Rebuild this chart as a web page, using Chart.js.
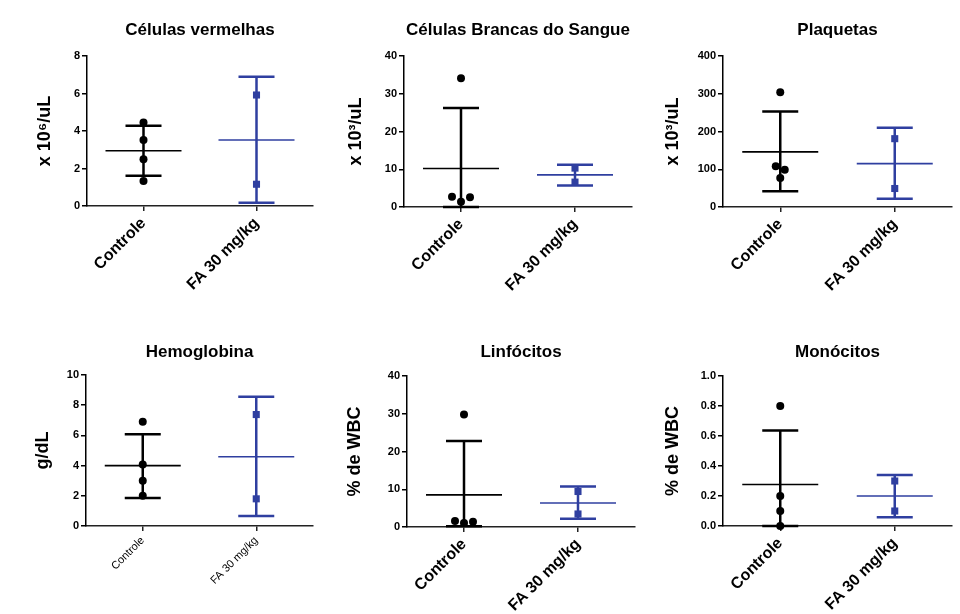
<!DOCTYPE html>
<html>
<head>
<meta charset="utf-8">
<script src="https://cdn.jsdelivr.net/npm/chart.js@4.4.1/dist/chart.umd.min.js"></script>
<style>
  body { margin: 0; background: #fff; }
  .panel { position: absolute; width: 320px; height: 307px; }
</style>
</head>
<body>
<div class="panel" style="left:0;top:0"><canvas id="c1" width="320" height="307"></canvas></div>
<div class="panel" style="left:320px;top:0"><canvas id="c2" width="320" height="307"></canvas></div>
<div class="panel" style="left:640px;top:0"><canvas id="c3" width="320" height="307"></canvas></div>
<div class="panel" style="left:0;top:307px"><canvas id="c4" width="320" height="307"></canvas></div>
<div class="panel" style="left:320px;top:307px"><canvas id="c5" width="320" height="307"></canvas></div>
<div class="panel" style="left:640px;top:307px"><canvas id="c6" width="320" height="307"></canvas></div>
<script>
// groups
const groups = ["Controle", "FA 30 mg/kg"];

// Células vermelhas (x 10^6/uL)
const rbcControle = [4.45, 3.52, 2.49, 1.34];
const rbcFA = [5.92, 1.16];
const rbcMean = [2.95, 3.52];
const rbcUpper = [4.28, 6.9];
const rbcLower = [1.62, 0.18];
const rbcTicks = [0, 2, 4, 6, 8];

// Células Brancas do Sangue (x 10^3/uL)
const wbcControle = [34.1, 2.7, 1.4, 2.55];
const wbcFA = [10.3, 6.6];
const wbcMean = [10.2, 8.5];
const wbcUpper = [26.2, 11.2];
const wbcLower = [0, 5.7];
const wbcTicks = [0, 10, 20, 30, 40];

// Plaquetas (x 10^3/uL)
const pltControle = [304, 108, 99, 77];
const pltFA = [181, 49];
const pltMean = [146, 115];
const pltUpper = [253, 210];
const pltLower = [42, 22];
const pltTicks = [0, 100, 200, 300, 400];

// Hemoglobina (g/dL)
const hgbControle = [6.9, 4.08, 2.99, 2.0];
const hgbFA = [7.38, 1.8];
const hgbMean = [4.0, 4.59];
const hgbUpper = [6.08, 8.56];
const hgbLower = [1.86, 0.66];
const hgbTicks = [0, 2, 4, 6, 8, 10];

// Linfócitos (% de WBC)
const linControle = [29.8, 1.6, 1.06, 1.4];
const linFA = [9.4, 3.45];
const linMean = [8.5, 6.37];
const linUpper = [22.75, 10.7];
const linLower = [0.2, 2.2];
const linTicks = [0, 10, 20, 30, 40];

// Monócitos (% de WBC)
const monControle = [0.8, 0.2, 0.1, 0.0];
const monFA = [0.3, 0.1];
const monMean = [0.277, 0.2];
const monUpper = [0.637, 0.34];
const monLower = [0, 0.058];
const monTicks = [0, 0.2, 0.4, 0.6, 0.8, 1.0];

const FONT = "'Liberation Sans', Arial, sans-serif";
const BLACK = "#000000";
const BLUE = "#2f3fa0";
const groupColors = [BLACK, BLUE];

// title centred over the plot area
const panelTitle = {
  id: "panelTitle",
  afterDraw(chart, args, opts) {
    const { ctx, chartArea } = chart;
    ctx.save();
    ctx.font = "bold 17px " + FONT;
    ctx.fillStyle = "#000";
    ctx.textAlign = "center";
    ctx.textBaseline = "middle";
    ctx.fillText(opts.text, (chartArea.left + chartArea.right) / 2, opts.y);
    ctx.restore();
  }
};

// mean line and SD whiskers for each group
const errorBars = {
  id: "errorBars",
  beforeDatasetsDraw(chart, args, opts) {
    const { ctx } = chart;
    const xs = chart.scales.x, ys = chart.scales.y;
    ctx.save();
    opts.mean.forEach((m, i) => {
      const cx = xs.getPixelForValue(i);
      const yTop = ys.getPixelForValue(opts.upper[i]);
      const yBot = ys.getPixelForValue(opts.lower[i]);
      const yMean = ys.getPixelForValue(m);
      ctx.strokeStyle = groupColors[i];
      ctx.lineWidth = 2.5;
      ctx.beginPath();
      ctx.moveTo(cx, yTop); ctx.lineTo(cx, yBot);
      ctx.moveTo(cx - 18, yTop); ctx.lineTo(cx + 18, yTop);
      ctx.moveTo(cx - 18, yBot); ctx.lineTo(cx + 18, yBot);
      ctx.stroke();
      ctx.lineWidth = 1.6;
      ctx.beginPath();
      ctx.moveTo(cx - 38, yMean); ctx.lineTo(cx + 38, yMean);
      ctx.stroke();
    });
    ctx.restore();
  }
};

// spread points that would sit on top of each other
const spread = {
  id: "spread",
  afterDatasetsUpdate(chart) {
    chart.data.datasets.forEach((ds, di) => {
      const pts = chart.getDatasetMeta(di).data;
      let cluster = [];
      const flush = () => {
        if (cluster.length > 1) {
          cluster.forEach((p, k) => { p.x += (k - (cluster.length - 1) / 2) * 9; });
        }
        cluster = [];
      };
      pts.forEach((p) => {
        if (cluster.length && cluster.every(q => Math.abs(q.y - p.y) < 6)) cluster.push(p);
        else { flush(); cluster.push(p); }
      });
      flush();
    });
  }
};

function makePanel(id, cfg) {
  const area = cfg.area;
  new Chart(document.getElementById(id), {
    type: "line",
    data: {
      labels: groups,
      datasets: [
        {
          data: cfg.controle.map(v => ({ x: groups[0], y: v })),
          showLine: false, pointStyle: "circle", pointRadius: 4,
          backgroundColor: BLACK, borderColor: BLACK, borderWidth: 0, clip: false
        },
        {
          data: cfg.fa.map(v => ({ x: groups[1], y: v })),
          showLine: false, pointStyle: "rect", pointRadius: 5,
          backgroundColor: BLUE, borderColor: BLUE, borderWidth: 0, clip: false
        }
      ]
    },
    options: {
      responsive: false,
      animation: false,
      events: [],
      layout: { padding: { left: 0, top: area.t, right: 320 - area.r, bottom: 0 } },
      plugins: {
        legend: { display: false },
        tooltip: { enabled: false },
        panelTitle: { text: cfg.title, y: cfg.titleY },
        errorBars: { mean: cfg.mean, upper: cfg.upper, lower: cfg.lower }
      },
      scales: {
        x: {
          type: "category",
          offset: true,
          afterFit: s => { s.height = 307 - area.b; },
          border: { color: "#222", width: 1.5 },
          grid: { offset: false, drawOnChartArea: false, tickLength: 5, color: "#222", lineWidth: 1.5 },
          ticks: {
            autoSkip: false, minRotation: 45, maxRotation: 45, padding: 3, color: "#000",
            font: cfg.smallX ? { family: FONT, size: 11 } : { family: FONT, size: 16, weight: "bold" }
          }
        },
        y: {
          min: cfg.ticks[0],
          max: cfg.ticks[cfg.ticks.length - 1],
          afterFit: s => { s.width = area.l; },
          afterBuildTicks: s => { s.ticks = cfg.ticks.map(v => ({ value: v })); },
          border: { color: "#000", width: 1.5 },
          grid: { drawOnChartArea: false, tickLength: 5, color: "#000", lineWidth: 1.5 },
          ticks: {
            padding: 2, color: "#000",
            font: { family: FONT, size: 11, weight: "bold" },
            callback: v => cfg.decimals ? v.toFixed(1) : String(v)
          },
          title: {
            display: true, text: cfg.yTitle, color: "#000",
            font: { family: FONT, size: 18, weight: "bold" },
            padding: { top: cfg.yPad, bottom: 0 }
          }
        }
      }
    },
    plugins: [panelTitle, errorBars, spread]
  });
}

makePanel("c1", {
  title: "Células vermelhas", titleY: 30, yTitle: "x 10⁶/uL", yPad: 34,
  area: { l: 87, r: 313, t: 56, b: 206 },
  controle: rbcControle, fa: rbcFA, mean: rbcMean, upper: rbcUpper, lower: rbcLower, ticks: rbcTicks
});
makePanel("c2", {
  title: "Células Brancas do Sangue", titleY: 30, yTitle: "x 10³/uL", yPad: 25,
  area: { l: 84, r: 312, t: 56, b: 207 },
  controle: wbcControle, fa: wbcFA, mean: wbcMean, upper: wbcUpper, lower: wbcLower, ticks: wbcTicks
});
makePanel("c3", {
  title: "Plaquetas", titleY: 30, yTitle: "x 10³/uL", yPad: 22,
  area: { l: 83, r: 312, t: 56, b: 207 },
  controle: pltControle, fa: pltFA, mean: pltMean, upper: pltUpper, lower: pltLower, ticks: pltTicks
});
makePanel("c4", {
  title: "Hemoglobina", titleY: 45, yTitle: "g/dL", yPad: 32, smallX: true,
  area: { l: 86, r: 313, t: 68, b: 219 },
  controle: hgbControle, fa: hgbFA, mean: hgbMean, upper: hgbUpper, lower: hgbLower, ticks: hgbTicks
});
makePanel("c5", {
  title: "Linfócitos", titleY: 45, yTitle: "% de WBC", yPad: 24,
  area: { l: 87, r: 315, t: 69, b: 220 },
  controle: linControle, fa: linFA, mean: linMean, upper: linUpper, lower: linLower, ticks: linTicks
});
makePanel("c6", {
  title: "Monócitos", titleY: 45, yTitle: "% de WBC", yPad: 22, decimals: true,
  area: { l: 83, r: 312, t: 69, b: 219 },
  controle: monControle, fa: monFA, mean: monMean, upper: monUpper, lower: monLower, ticks: monTicks
});
</script>
</body>
</html>
